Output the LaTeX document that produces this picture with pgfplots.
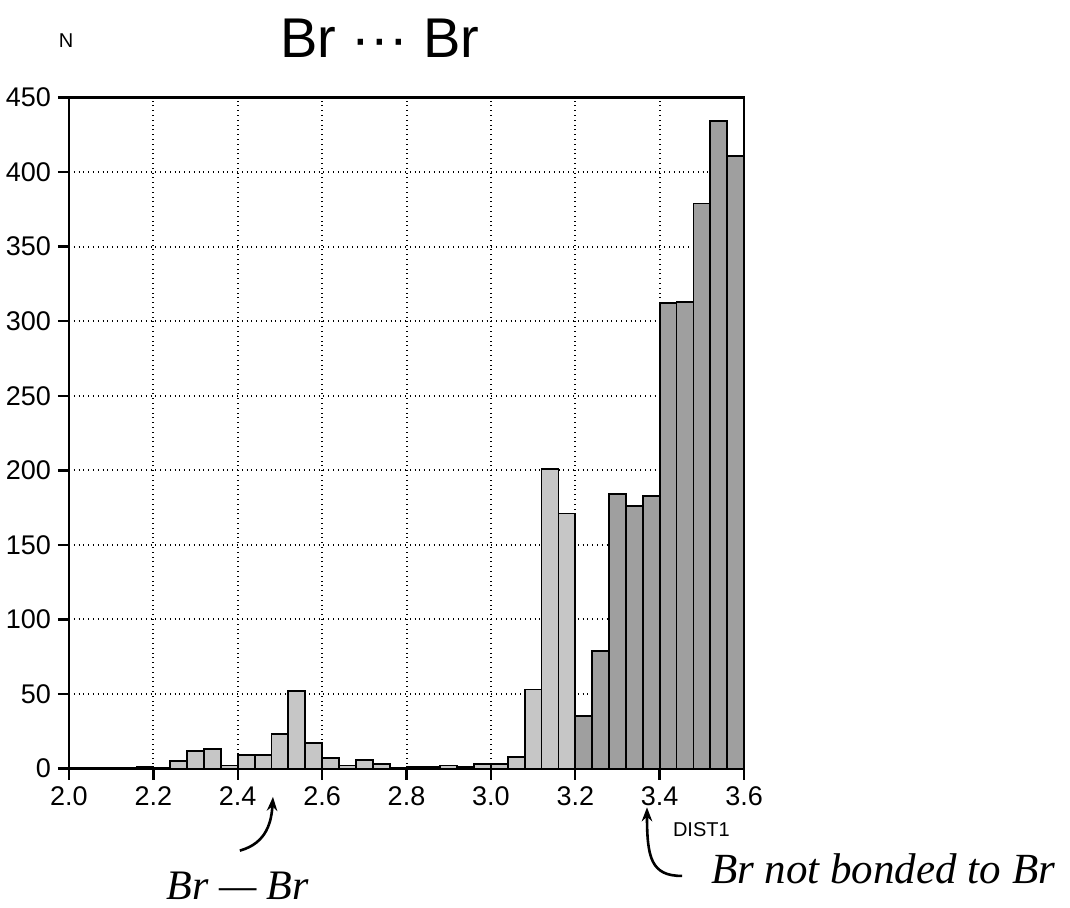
\documentclass[border=0pt]{standalone}
\usepackage{pgfplots}
\pgfplotsset{compat=1.18}
\usepackage{fontspec}
\setmainfont{Liberation Sans}
\newfontfamily\hand{Liberation Serif}
\usetikzlibrary{arrows.meta}
\begin{document}
\begin{tikzpicture}
\begin{axis}[
  scale only axis,
  width=337.5pt, height=335.5pt,
  xmin=2.0, xmax=3.6, ymin=0, ymax=450,
  xtick={2.0,2.2,...,3.61}, ytick={0,50,...,450},
  xtick pos=bottom, ytick pos=left,
  /pgf/number format/assume math mode=true,
  xticklabel style={/pgf/number format/.cd, fixed, fixed zerofill, precision=1},
  ticklabel style={font=\fontsize{13.5}{13.5}\selectfont},
  tick align=outside,
  xtick style={black, line width=1.2pt},
  ytick style={black, line width=1.2pt},
  major tick length=5.5pt,
  grid=major,
  major grid style={black, dotted, line width=1pt},
  axis line style={black, line width=1.3pt},
  clip=false,
]
\addplot[ybar interval, fill=gray!45, draw=black, line width=0.9pt] coordinates {
(2.00,0) (2.04,0) (2.08,0) (2.12,0) (2.16,1) (2.20,0) (2.24,5) (2.28,12) (2.32,13)
(2.36,2) (2.40,9) (2.44,9) (2.48,23) (2.52,52) (2.56,17) (2.60,7) (2.64,2) (2.68,6)
(2.72,3) (2.76,0) (2.80,1) (2.84,1) (2.88,2) (2.92,1) (2.96,3) (3.00,3) (3.04,8)
(3.08,53) (3.12,201) (3.16,171) (3.20,0)
};
\addplot[ybar interval, fill=gray!75, draw=black, line width=0.9pt] coordinates {
(3.20,35) (3.24,79) (3.28,184) (3.32,176) (3.36,183) (3.40,312) (3.44,313)
(3.48,379) (3.52,434) (3.56,411) (3.60,0)
};
\node[font=\fontsize{28}{28}\selectfont] at (axis cs:2.737,490) {Br ··· Br};
\node[font=\fontsize{10}{10}\selectfont] at (axis cs:1.993,488) {N};
\node[font=\fontsize{10}{10}\selectfont, anchor=west] at (axis cs:3.415,-41) {DIST1};
\draw[-{Stealth[length=7pt]}, line width=1.3pt] (axis cs:2.405,-55) .. controls (axis cs:2.47,-50) and (axis cs:2.48,-35) .. (axis cs:2.4835,-19);
\draw[-{Stealth[length=7pt]}, line width=1.3pt] (axis cs:3.453,-72) .. controls (axis cs:3.38,-72) and (axis cs:3.37,-60) .. (axis cs:3.370,-26);
\node[font=\hand\itshape\fontsize{21}{21}\selectfont] at (axis cs:2.40,-78.5) {Br — Br};
\node[font=\hand\itshape\fontsize{21.5}{21.5}\selectfont, anchor=west] at (axis cs:3.505,-67) {Br not bonded to Br};
\coordinate (bl) at (axis cs:1.8365,-93.3);
\coordinate (tr) at (axis cs:4.3726,515.4);
\end{axis}
\pgfresetboundingbox
\path[use as bounding box] (bl) rectangle (tr);
\end{tikzpicture}
\end{document}
